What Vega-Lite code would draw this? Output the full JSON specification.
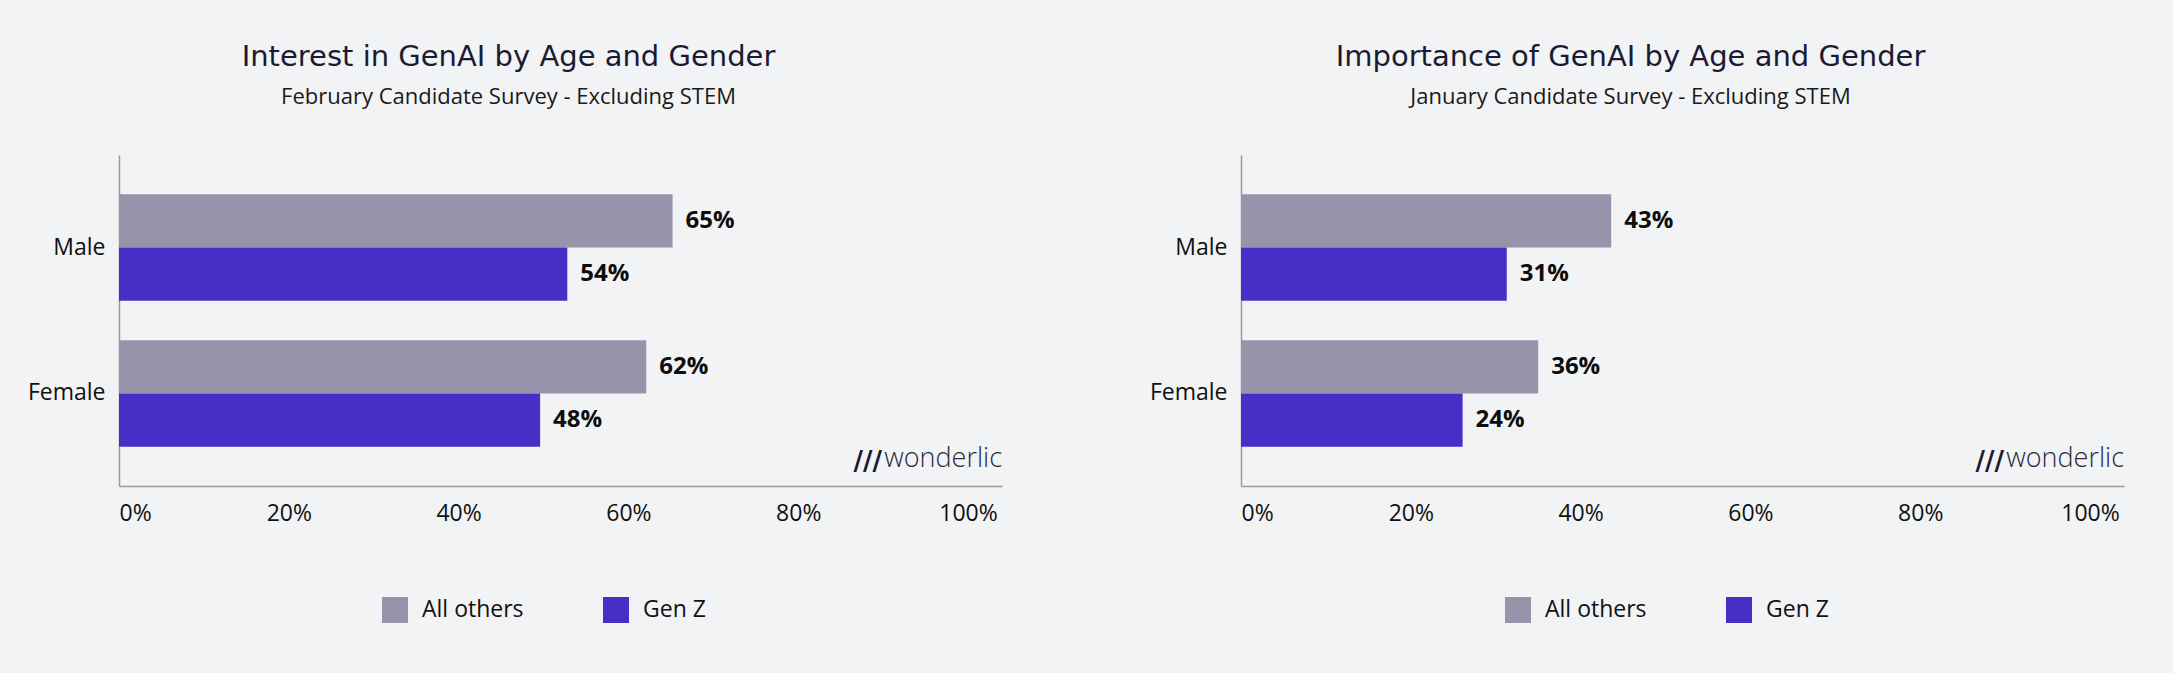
{
  "$schema": "https://vega.github.io/schema/vega-lite/v6.json",
  "background": "#f2f3f5",
  "padding": {"left": 27, "top": 43, "right": 49, "bottom": 50},
  "bounds": "flush",
  "spacing": 239,
  "datasets": {
    "survey": [
      {"panel": "interest", "gender": "Male", "group": "All others", "pct": 65.2, "label": "65%"},
      {"panel": "interest", "gender": "Male", "group": "Gen Z", "pct": 52.8, "label": "54%"},
      {"panel": "interest", "gender": "Female", "group": "All others", "pct": 62.1, "label": "62%"},
      {"panel": "interest", "gender": "Female", "group": "Gen Z", "pct": 49.6, "label": "48%"},
      {"panel": "importance", "gender": "Male", "group": "All others", "pct": 43.6, "label": "43%"},
      {"panel": "importance", "gender": "Male", "group": "Gen Z", "pct": 31.3, "label": "31%"},
      {"panel": "importance", "gender": "Female", "group": "All others", "pct": 35.0, "label": "36%"},
      {"panel": "importance", "gender": "Female", "group": "Gen Z", "pct": 26.1, "label": "24%"}
    ],
    "brand": [{"name": "wonderlic", "icon": "///"}]
  },
  "hconcat": [
    {
      "width": 883,
      "height": 331,
      "title": {"text": "Interest in GenAI by Age and Gender", "subtitle": "February Candidate Survey - Excluding STEM"},
      "data": {"name": "survey"},
      "transform": [{"filter": "datum.panel === 'interest'"}],
      "layer": [
        {
          "mark": {"type": "bar"},
          "encoding": {
            "y": {"field": "gender", "type": "nominal", "sort": ["Male", "Female"], "title": null, "scale": {"paddingInner": 0.27, "paddingOuter": 0.27}},
            "yOffset": {"field": "group", "sort": ["All others", "Gen Z"], "scale": {"paddingInner": 0, "paddingOuter": 0}},
            "x": {
              "field": "pct", "type": "quantitative", "title": null,
              "scale": {"domain": [0, 104], "nice": false, "zero": true},
              "axis": {"values": [0, 20, 40, 60, 80, 100], "labelExpr": "datum.value + '%'", "labelFlush": true}
            },
            "color": {
              "field": "group", "type": "nominal", "title": null,
              "scale": {"domain": ["All others", "Gen Z"], "range": ["#9594ab", "#452fc7"]},
              "legend": {"orient": "none", "legendX": 263, "legendY": 442, "direction": "horizontal"}
            }
          }
        },
        {
          "mark": {"type": "text", "align": "left", "baseline": "middle", "dx": 13, "fontWeight": "bold", "fontSize": 24, "color": "#0d0d0d"},
          "encoding": {
            "y": {"field": "gender", "type": "nominal", "sort": ["Male", "Female"]},
            "yOffset": {"field": "group", "sort": ["All others", "Gen Z"]},
            "x": {"field": "pct", "type": "quantitative"},
            "text": {"field": "label"}
          }
        },
        {
          "data": {"name": "brand"},
          "mark": {"type": "text", "align": "right", "baseline": "alphabetic", "dy": -19, "fontSize": 27, "fontWeight": 300, "color": "#2b2b3d"},
          "encoding": {"x": {"value": "width"}, "y": {"value": "height"}, "text": {"field": "name"}}
        },
        {
          "data": {"name": "brand"},
          "mark": {"type": "text", "align": "right", "baseline": "alphabetic", "dx": -120, "dy": -16, "fontSize": 26, "fontWeight": "bold", "font": "DejaVu Sans", "color": "#1c1a33"},
          "encoding": {"x": {"value": "width"}, "y": {"value": "height"}, "text": {"field": "icon"}}
        }
      ]
    },
    {
      "width": 883,
      "height": 331,
      "title": {"text": "Importance of GenAI by Age and Gender", "subtitle": "January Candidate Survey - Excluding STEM"},
      "data": {"name": "survey"},
      "transform": [{"filter": "datum.panel === 'importance'"}],
      "layer": [
        {
          "mark": {"type": "bar"},
          "encoding": {
            "y": {"field": "gender", "type": "nominal", "sort": ["Male", "Female"], "title": null, "scale": {"paddingInner": 0.27, "paddingOuter": 0.27}},
            "yOffset": {"field": "group", "sort": ["All others", "Gen Z"], "scale": {"paddingInner": 0, "paddingOuter": 0}},
            "x": {
              "field": "pct", "type": "quantitative", "title": null,
              "scale": {"domain": [0, 104], "nice": false, "zero": true},
              "axis": {"values": [0, 20, 40, 60, 80, 100], "labelExpr": "datum.value + '%'", "labelFlush": true}
            },
            "color": {
              "field": "group", "type": "nominal", "title": null,
              "scale": {"domain": ["All others", "Gen Z"], "range": ["#9594ab", "#452fc7"]},
              "legend": {"orient": "none", "legendX": 264, "legendY": 442, "direction": "horizontal"}
            }
          }
        },
        {
          "mark": {"type": "text", "align": "left", "baseline": "middle", "dx": 13, "fontWeight": "bold", "fontSize": 24, "color": "#0d0d0d"},
          "encoding": {
            "y": {"field": "gender", "type": "nominal", "sort": ["Male", "Female"]},
            "yOffset": {"field": "group", "sort": ["All others", "Gen Z"]},
            "x": {"field": "pct", "type": "quantitative"},
            "text": {"field": "label"}
          }
        },
        {
          "data": {"name": "brand"},
          "mark": {"type": "text", "align": "right", "baseline": "alphabetic", "dy": -19, "fontSize": 27, "fontWeight": 300, "color": "#2b2b3d"},
          "encoding": {"x": {"value": "width"}, "y": {"value": "height"}, "text": {"field": "name"}}
        },
        {
          "data": {"name": "brand"},
          "mark": {"type": "text", "align": "right", "baseline": "alphabetic", "dx": -120, "dy": -16, "fontSize": 26, "fontWeight": "bold", "font": "DejaVu Sans", "color": "#1c1a33"},
          "encoding": {"x": {"value": "width"}, "y": {"value": "height"}, "text": {"field": "icon"}}
        }
      ]
    }
  ],
  "resolve": {"legend": {"color": "independent"}},
  "config": {
    "font": "Open Sans",
    "view": {"stroke": null},
    "axisY": {"domainColor": "#9a9a9a", "domainWidth": 1.5, "ticks": false, "grid": false, "labelFontSize": 23, "labelColor": "#111111", "labelPadding": 14},
    "axisX": {"domainColor": "#9a9a9a", "domainWidth": 1.5, "ticks": false, "grid": false, "labelFontSize": 23, "labelColor": "#111111", "labelPadding": 16},
    "legend": {"title": null, "padding": 0, "symbolType": "square", "symbolSize": 676, "symbolStrokeWidth": 0, "symbolOpacity": 1, "labelFontSize": 23, "labelColor": "#111111", "labelOffset": 14, "columnPadding": 79},
    "title": {"anchor": "middle", "dx": -52, "font": "DejaVu Sans", "fontSize": 29, "fontWeight": "normal", "color": "#1c1a33", "subtitleFont": "Open Sans", "subtitleFontSize": 22, "subtitleColor": "#1a1a1a", "subtitlePadding": 15, "offset": 47}
  }
}
